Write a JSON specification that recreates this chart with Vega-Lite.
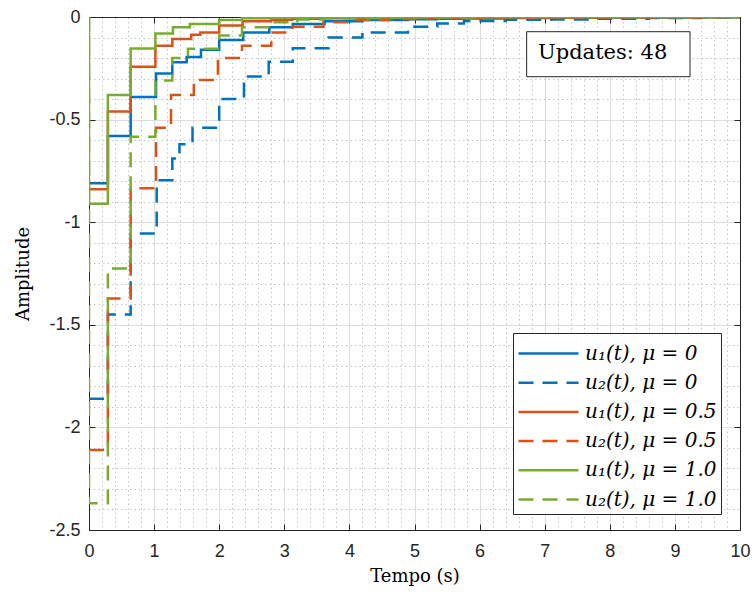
{
  "$schema": "https://vega.github.io/schema/vega-lite/v6.json",
  "width": 651,
  "height": 513,
  "autosize": "none",
  "padding": {"left": 89, "top": 17, "right": 16, "bottom": 65},
  "background": "white",
  "config": {
    "view": {"stroke": null},
    "axis": {"labelFont": "Liberation Sans", "labelFontSize": 18, "labelColor": "#262626", "titleFont": "DejaVu Serif", "titleFontSize": 18, "titleFontWeight": "normal", "titleColor": "#000000", "domainColor": "#262626", "tickColor": "#262626", "labelFlush": false},
    "legend": {
      "orient": "none", "legendX": 424, "legendY": 316, "title": null,
      "symbolType": "M-1,0H3", "symbolSize": 900, "symbolStrokeWidth": 2.5,
      "labelFont": "DejaVu Serif", "labelFontSize": 20, "labelFontStyle": "italic", "labelColor": "#000000",
      "labelOffset": 35, "labelLimit": 400, "padding": 4, "rowPadding": 2.2,
      "strokeColor": "#262626", "fillColor": "white"
    }
  },
  "layer": [
    {
      "data": {"values": [
        {"s": "u₁(t), μ = 0", "t": 0, "v": -0.81},
        {"s": "u₁(t), μ = 0", "t": 0.29, "v": -0.58},
        {"s": "u₁(t), μ = 0", "t": 0.64, "v": -0.39},
        {"s": "u₁(t), μ = 0", "t": 1.03, "v": -0.275},
        {"s": "u₁(t), μ = 0", "t": 1.28, "v": -0.22},
        {"s": "u₁(t), μ = 0", "t": 1.5, "v": -0.195},
        {"s": "u₁(t), μ = 0", "t": 1.72, "v": -0.16},
        {"s": "u₁(t), μ = 0", "t": 2.0, "v": -0.112},
        {"s": "u₁(t), μ = 0", "t": 2.37, "v": -0.075},
        {"s": "u₁(t), μ = 0", "t": 2.77, "v": -0.05},
        {"s": "u₁(t), μ = 0", "t": 3.13, "v": -0.034},
        {"s": "u₁(t), μ = 0", "t": 3.62, "v": -0.021},
        {"s": "u₁(t), μ = 0", "t": 4.2, "v": -0.015},
        {"s": "u₁(t), μ = 0", "t": 4.9, "v": -0.011},
        {"s": "u₁(t), μ = 0", "t": 5.35, "v": -0.009},
        {"s": "u₁(t), μ = 0", "t": 5.76, "v": -0.007},
        {"s": "u₁(t), μ = 0", "t": 6.4, "v": -0.005},
        {"s": "u₁(t), μ = 0", "t": 7.1, "v": -0.004},
        {"s": "u₁(t), μ = 0", "t": 7.8, "v": -0.003},
        {"s": "u₁(t), μ = 0", "t": 8.6, "v": -0.002},
        {"s": "u₁(t), μ = 0", "t": 9.4, "v": -0.001},
        {"s": "u₁(t), μ = 0", "t": 10, "v": -0.001},
        {"s": "u₂(t), μ = 0", "t": 0, "v": -1.86},
        {"s": "u₂(t), μ = 0", "t": 0.29, "v": -1.45},
        {"s": "u₂(t), μ = 0", "t": 0.64, "v": -1.055},
        {"s": "u₂(t), μ = 0", "t": 1.04, "v": -0.795},
        {"s": "u₂(t), μ = 0", "t": 1.28, "v": -0.69},
        {"s": "u₂(t), μ = 0", "t": 1.39, "v": -0.62},
        {"s": "u₂(t), μ = 0", "t": 1.59, "v": -0.54},
        {"s": "u₂(t), μ = 0", "t": 2.0, "v": -0.4},
        {"s": "u₂(t), μ = 0", "t": 2.38, "v": -0.29},
        {"s": "u₂(t), μ = 0", "t": 2.76, "v": -0.218},
        {"s": "u₂(t), μ = 0", "t": 3.13, "v": -0.152},
        {"s": "u₂(t), μ = 0", "t": 3.68, "v": -0.1},
        {"s": "u₂(t), μ = 0", "t": 4.2, "v": -0.075},
        {"s": "u₂(t), μ = 0", "t": 4.9, "v": -0.048},
        {"s": "u₂(t), μ = 0", "t": 5.35, "v": -0.032},
        {"s": "u₂(t), μ = 0", "t": 5.76, "v": -0.02},
        {"s": "u₂(t), μ = 0", "t": 6.4, "v": -0.014},
        {"s": "u₂(t), μ = 0", "t": 7.1, "v": -0.012},
        {"s": "u₂(t), μ = 0", "t": 7.8, "v": -0.009},
        {"s": "u₂(t), μ = 0", "t": 8.6, "v": -0.005},
        {"s": "u₂(t), μ = 0", "t": 9.4, "v": -0.003},
        {"s": "u₂(t), μ = 0", "t": 10, "v": -0.003},
        {"s": "u₁(t), μ = 0.5", "t": 0, "v": -0.84},
        {"s": "u₁(t), μ = 0.5", "t": 0.29, "v": -0.46},
        {"s": "u₁(t), μ = 0.5", "t": 0.64, "v": -0.242},
        {"s": "u₁(t), μ = 0.5", "t": 1.02, "v": -0.14},
        {"s": "u₁(t), μ = 0.5", "t": 1.28, "v": -0.107},
        {"s": "u₁(t), μ = 0.5", "t": 1.57, "v": -0.086},
        {"s": "u₁(t), μ = 0.5", "t": 1.71, "v": -0.075},
        {"s": "u₁(t), μ = 0.5", "t": 2.0, "v": -0.042},
        {"s": "u₁(t), μ = 0.5", "t": 2.36, "v": -0.021},
        {"s": "u₁(t), μ = 0.5", "t": 2.8, "v": -0.013},
        {"s": "u₁(t), μ = 0.5", "t": 3.12, "v": -0.009},
        {"s": "u₁(t), μ = 0.5", "t": 3.6, "v": -0.006},
        {"s": "u₁(t), μ = 0.5", "t": 4.1, "v": -0.004},
        {"s": "u₁(t), μ = 0.5", "t": 4.6, "v": -0.003},
        {"s": "u₁(t), μ = 0.5", "t": 5.2, "v": -0.002},
        {"s": "u₁(t), μ = 0.5", "t": 6.0, "v": -0.001},
        {"s": "u₁(t), μ = 0.5", "t": 8.0, "v": 0},
        {"s": "u₁(t), μ = 0.5", "t": 10, "v": 0},
        {"s": "u₂(t), μ = 0.5", "t": 0, "v": -2.11},
        {"s": "u₂(t), μ = 0.5", "t": 0.29, "v": -1.372},
        {"s": "u₂(t), μ = 0.5", "t": 0.64, "v": -0.835},
        {"s": "u₂(t), μ = 0.5", "t": 1.03, "v": -0.54},
        {"s": "u₂(t), μ = 0.5", "t": 1.26, "v": -0.38},
        {"s": "u₂(t), μ = 0.5", "t": 1.61, "v": -0.307},
        {"s": "u₂(t), μ = 0.5", "t": 1.98, "v": -0.2},
        {"s": "u₂(t), μ = 0.5", "t": 2.35, "v": -0.14},
        {"s": "u₂(t), μ = 0.5", "t": 2.8, "v": -0.075},
        {"s": "u₂(t), μ = 0.5", "t": 3.12, "v": -0.047},
        {"s": "u₂(t), μ = 0.5", "t": 3.6, "v": -0.026},
        {"s": "u₂(t), μ = 0.5", "t": 4.1, "v": -0.015},
        {"s": "u₂(t), μ = 0.5", "t": 4.6, "v": -0.01},
        {"s": "u₂(t), μ = 0.5", "t": 5.2, "v": -0.006},
        {"s": "u₂(t), μ = 0.5", "t": 6.0, "v": -0.004},
        {"s": "u₂(t), μ = 0.5", "t": 7.0, "v": -0.002},
        {"s": "u₂(t), μ = 0.5", "t": 8.0, "v": -0.001},
        {"s": "u₂(t), μ = 0.5", "t": 10, "v": -0.001},
        {"s": "u₁(t), μ = 1.0", "t": 0, "v": 0},
        {"s": "u₁(t), μ = 1.0", "t": 0, "v": -0.91},
        {"s": "u₁(t), μ = 1.0", "t": 0.29, "v": -0.38},
        {"s": "u₁(t), μ = 1.0", "t": 0.64, "v": -0.153},
        {"s": "u₁(t), μ = 1.0", "t": 1.02, "v": -0.08},
        {"s": "u₁(t), μ = 1.0", "t": 1.29, "v": -0.05},
        {"s": "u₁(t), μ = 1.0", "t": 1.55, "v": -0.034},
        {"s": "u₁(t), μ = 1.0", "t": 2.0, "v": -0.015},
        {"s": "u₁(t), μ = 1.0", "t": 2.35, "v": -0.006},
        {"s": "u₁(t), μ = 1.0", "t": 2.8, "v": -0.003},
        {"s": "u₁(t), μ = 1.0", "t": 3.5, "v": -0.001},
        {"s": "u₁(t), μ = 1.0", "t": 5.0, "v": 0},
        {"s": "u₁(t), μ = 1.0", "t": 10, "v": 0},
        {"s": "u₂(t), μ = 1.0", "t": 0, "v": 0},
        {"s": "u₂(t), μ = 1.0", "t": 0, "v": -2.37},
        {"s": "u₂(t), μ = 1.0", "t": 0.29, "v": -1.226},
        {"s": "u₂(t), μ = 1.0", "t": 0.64, "v": -0.584},
        {"s": "u₂(t), μ = 1.0", "t": 1.02, "v": -0.31},
        {"s": "u₂(t), μ = 1.0", "t": 1.28, "v": -0.2},
        {"s": "u₂(t), μ = 1.0", "t": 1.52, "v": -0.155},
        {"s": "u₂(t), μ = 1.0", "t": 2.0, "v": -0.09},
        {"s": "u₂(t), μ = 1.0", "t": 2.35, "v": -0.05},
        {"s": "u₂(t), μ = 1.0", "t": 2.8, "v": -0.025},
        {"s": "u₂(t), μ = 1.0", "t": 3.2, "v": -0.012},
        {"s": "u₂(t), μ = 1.0", "t": 3.6, "v": -0.006},
        {"s": "u₂(t), μ = 1.0", "t": 4.5, "v": -0.002},
        {"s": "u₂(t), μ = 1.0", "t": 6.0, "v": 0},
        {"s": "u₂(t), μ = 1.0", "t": 10, "v": 0}
      ]},
      "mark": {"type": "line", "interpolate": "step-after", "strokeWidth": 2.5, "clip": true},
      "encoding": {
        "x": {"field": "t", "type": "quantitative", "scale": {"domain": [0, 10], "nice": false, "zero": false},
          "axis": {"orient": "bottom", "values": [0.2,0.4,0.6,0.8,1.2,1.4,1.6,1.8,2.2,2.4,2.6,2.8,3.2,3.4,3.6,3.8,4.2,4.4,4.6,4.8,5.2,5.4,5.6,5.8,6.2,6.4,6.6,6.8,7.2,7.4,7.6,7.8,8.2,8.4,8.6,8.8,9.2,9.4,9.6,9.8],
            "grid": true, "gridDash": [1.5, 3], "gridColor": "#c4c4c4", "labels": false, "ticks": false, "domain": false, "title": null}},
        "y": {"field": "v", "type": "quantitative", "scale": {"domain": [-2.5, 0], "nice": false, "zero": false},
          "axis": {"orient": "left", "values": [-2.4,-2.3,-2.2,-2.1,-1.9,-1.8,-1.7,-1.6,-1.4,-1.3,-1.2,-1.1,-0.9,-0.8,-0.7,-0.6,-0.4,-0.3,-0.2,-0.1],
            "grid": true, "gridDash": [1.5, 3], "gridColor": "#c4c4c4", "labels": false, "ticks": false, "domain": false, "title": null}},
        "color": {"field": "s", "type": "nominal",
          "scale": {"domain": ["u₁(t), μ = 0", "u₂(t), μ = 0", "u₁(t), μ = 0.5", "u₂(t), μ = 0.5", "u₁(t), μ = 1.0", "u₂(t), μ = 1.0"],
            "range": ["#0072BD", "#0072BD", "#D95319", "#D95319", "#77AC30", "#77AC30"]}},
        "strokeDash": {"field": "s", "type": "nominal",
          "scale": {"domain": ["u₁(t), μ = 0", "u₂(t), μ = 0", "u₁(t), μ = 0.5", "u₂(t), μ = 0.5", "u₁(t), μ = 1.0", "u₂(t), μ = 1.0"],
            "range": [[1, 0], [15, 9], [1, 0], [15, 9], [1, 0], [15, 9]]}}
      }
    },
    {
      "data": {"values": [{"label": "Updates: 48"}]},
      "mark": {"type": "rect", "fill": "white", "stroke": "#262626", "strokeWidth": 1},
      "encoding": {
        "x": {"datum": 6.723, "type": "quantitative",
          "axis": {"orient": "bottom", "values": [0,1,2,3,4,5,6,7,8,9,10], "grid": true, "gridColor": "#dedede", "gridWidth": 1,
            "labelExpr": "toString(datum.value)", "tickSize": -6, "labelPadding": 18, "title": "Tempo (s)", "titlePadding": 7}},
        "x2": {"datum": 9.232},
        "y": {"datum": -0.0717, "type": "quantitative",
          "axis": {"orient": "left", "values": [-2.5,-2,-1.5,-1,-0.5,0], "grid": true, "gridColor": "#dedede", "gridWidth": 1,
            "labelExpr": "toString(datum.value)", "tickSize": -6, "labelPadding": 15, "title": "Amplitude", "titlePadding": 16}},
        "y2": {"datum": -0.291}
      }
    },
    {
      "data": {"values": [{"label": "Updates: 48"}]},
      "mark": {"type": "text", "font": "DejaVu Serif", "fontSize": 21, "align": "center", "baseline": "alphabetic", "color": "#000000"},
      "encoding": {
        "text": {"field": "label"},
        "x": {"datum": 7.89, "type": "quantitative",
          "axis": {"orient": "top", "values": [0,1,2,3,4,5,6,7,8,9,10], "grid": false, "labels": false, "tickSize": -6, "title": null}},
        "y": {"datum": -0.205, "type": "quantitative",
          "axis": {"orient": "right", "values": [-2.5,-2,-1.5,-1,-0.5,0], "grid": false, "labels": false, "tickSize": -6, "title": null}}
      }
    }
  ],
  "resolve": {"axis": {"x": "independent", "y": "independent"}}
}
